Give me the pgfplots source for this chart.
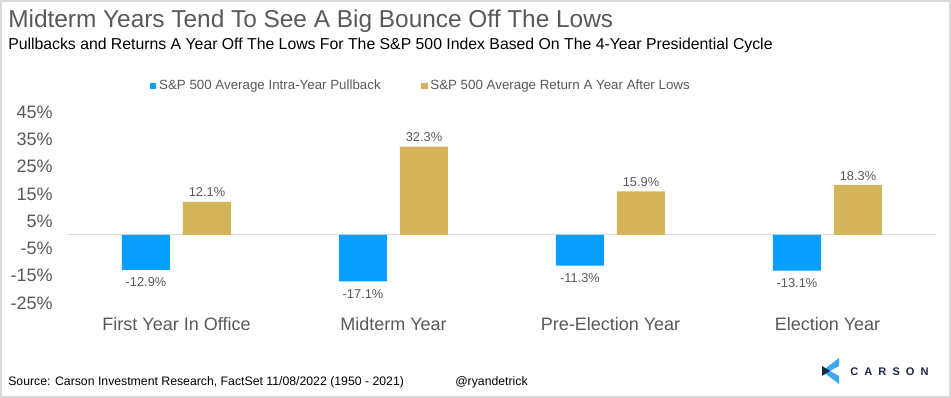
\documentclass[border=0pt]{standalone}
\usepackage{pgfplots}
\pgfplotsset{compat=1.18}
\usepackage{fontspec}
\setmainfont{Liberation Sans}
\definecolor{barblue}{HTML}{069FFF}
\definecolor{bargold}{HTML}{D4B458}
\definecolor{txtgray}{HTML}{595959}
\definecolor{navy}{HTML}{1B2A47}
\definecolor{logoblue}{HTML}{3FA9F5}
\definecolor{framegray}{HTML}{D9D9D9}
\newcommand{\px}[2]{({(#1)*0.75pt},{-(#2)*0.75pt})}
\begin{document}
\begin{tikzpicture}
\useasboundingbox \px{0}{0} rectangle \px{951}{398};
\fill[white] \px{0}{0} rectangle \px{951}{398};
\draw[framegray, line width=1.5pt] \px{1}{1} rectangle \px{950}{397};
\node[anchor=west, inner sep=0pt, font=\fontsize{18.3}{20}\selectfont, text=txtgray] at \px{8}{21} {Midterm Years Tend To See A Big Bounce Off The Lows};
\node[anchor=west, inner sep=0pt, font=\fontsize{11.85}{13}\selectfont] at \px{8}{45} {Pullbacks and Returns A Year Off The Lows For The S\&P 500 Index Based On The 4-Year Presidential Cycle};
\node[anchor=west, inner sep=0pt, font=\fontsize{9.2}{11}\selectfont] at \px{8}{382} {Source: Carson Investment Research, FactSet 11/08/2022 (1950 - 2021)};
\node[anchor=west, inner sep=0pt, font=\fontsize{9.2}{11}\selectfont] at \px{455}{382} {@ryandetrick};
% logo
\fill[logoblue] \px{822}{371} -- \px{839}{358} -- \px{839}{366} -- \px{830}{371} -- \px{839}{376} -- \px{839}{384} -- cycle;
\fill[navy] \px{822}{366} -- \px{830}{371} -- \px{822}{376} -- cycle;
\node[anchor=west, inner sep=0pt, text=navy, font=\bfseries\fontsize{8.3}{10}\selectfont\addfontfeatures{LetterSpace=55}] at \px{850}{372} {CARSON};
\begin{axis}[
  at={(51pt,-227.25pt)}, anchor=south west,
  width=651pt, height=143.25pt, scale only axis,
  xmin=-0.5, xmax=3.5, ymin=-25, ymax=45,
  ybar=9.75pt, bar width=36pt,
  axis line style={draw=none},
  major tick length=0pt,
  /pgf/number format/assume math mode=true,
  ytick={-25,-15,...,45},
  yticklabel={\pgfmathprintnumber{\tick}\%},
  yticklabel style={font=\fontsize{13.5}{15}\selectfont, text=txtgray, anchor=east, xshift=-8pt},
  xtick=data,
  xticklabels={First Year In Office, Midterm Year, Pre-Election Year, Election Year},
  xticklabel style={font=\fontsize{13.5}{15}\selectfont, text=txtgray, yshift=-7pt},
  nodes near coords={\pgfmathprintnumber[fixed,fixed zerofill,precision=1]{\pgfplotspointmeta}\%},
  every node near coord/.append style={font=\fontsize{9.6}{11}\selectfont, text=txtgray},
  legend style={at={(0.4067,1.136)}, anchor=center, draw=none, fill=none,
    font=\fontsize{10}{11}\selectfont, text=txtgray, legend columns=2,
    /tikz/every even column/.append style={column sep=28pt}},
  legend image code/.code={\fill[#1] (0pt,-2.6pt) rectangle (5.2pt,2.6pt);},
]
\draw[framegray, line width=1pt] (axis cs:-0.5,0) -- (axis cs:3.5,0);
\addplot[fill=barblue, draw=none, nodes near coords style={anchor=north, yshift=-2.5pt}] coordinates {(0,-12.9) (1,-17.1) (2,-11.3) (3,-13.1)};
\addplot[fill=bargold, draw=none, nodes near coords style={anchor=south}] coordinates {(0,12.1) (1,32.3) (2,15.9) (3,18.3)};
\legend{S\&P 500 Average Intra-Year Pullback, S\&P 500 Average Return A Year After Lows}
\end{axis}
\end{tikzpicture}
\end{document}
